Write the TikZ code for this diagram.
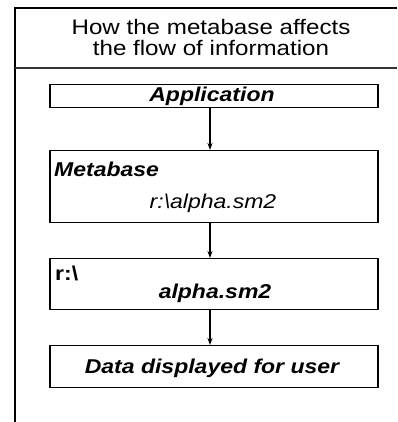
\documentclass[tikz,border=0pt]{standalone}
\usepackage{fontspec}
\setmainfont{Liberation Sans}[FakeStretch=1.15]
\usetikzlibrary{positioning,arrows.meta}
\begin{document}
\begin{tikzpicture}[x=1pt,y=-1pt,
  box/.style={draw, line width=1.4pt, minimum width=328pt, inner sep=0pt, anchor=north},
  arr/.style={-{Stealth[length=7pt,width=5pt]}, line width=1.1pt},
  bi/.style={font=\fontsize{20}{22}\selectfont\bfseries\itshape},
  bd/.style={font=\fontsize{20}{22}\selectfont\bfseries},
  it/.style={font=\fontsize{20}{22}\selectfont\itshape},
  ttl/.style={font=\fontsize{21}{21}\selectfont, anchor=base}]
\useasboundingbox (0,0) rectangle (397,422);
% frame
\draw[line width=1.4pt] (397,8) -- (15,8) -- (15,422);
\draw[line width=1.8pt, black!80] (15,68) -- (397,68);
\node[ttl] (title1) at (211,35) {How the metabase affects};
\node[ttl] (title2) at (211,56) {the flow of information};
% boxes
\node[box, minimum height=23pt] (app) at (214,84) {};
\node[bi, anchor=base] (apptext) at (212,102) {Application};
\node[box, minimum height=72pt] (meta) at (214,150) {};
\node[bi, anchor=base west, inner sep=0pt] (metatitle) at (54,176) {Metabase};
\node[it, anchor=base] (metapath) at (213,208) {r:\textbackslash alpha.sm2};
\node[box, minimum height=51pt] (file) at (214,258) {};
\node[bd, anchor=base west, inner sep=0pt] (filedrive) at (55,280) {r:\textbackslash};
\node[bi, anchor=base] (filename) at (215,298) {alpha.sm2};
\node[box, minimum height=42pt] (data) at (214,345) {};
\node[bi, anchor=base] (datatext) at (212,373) {Data displayed for user};
% arrows
\draw[arr] ([xshift=-4pt]app.south) -- ([xshift=-4pt]meta.north);
\draw[arr] ([xshift=-4pt]meta.south) -- ([xshift=-4pt]file.north);
\draw[arr] ([xshift=-4pt]file.south) -- ([xshift=-4pt]data.north);
\end{tikzpicture}
\end{document}
